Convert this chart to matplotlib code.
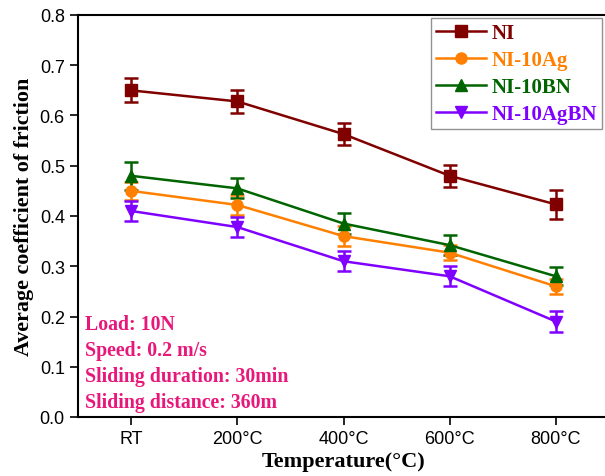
import matplotlib
matplotlib.use("Agg")
import matplotlib.pyplot as plt
from matplotlib.lines import Line2D
import numpy as np

categories = ["RT", "200°C", "400°C", "600°C", "800°C"]
series_names = ["NI", "NI-10Ag", "NI-10BN", "NI-10AgBN"]
ni = [0.650, 0.628, 0.563, 0.480, 0.423]
ni_err = [0.024, 0.023, 0.022, 0.022, 0.028]
ag = [0.450, 0.422, 0.360, 0.327, 0.260]
ag_err = [0.018, 0.020, 0.020, 0.015, 0.015]
bn = [0.480, 0.455, 0.385, 0.342, 0.280]
bn_err = [0.028, 0.020, 0.020, 0.020, 0.018]
agbn = [0.410, 0.378, 0.310, 0.280, 0.190]
agbn_err = [0.020, 0.020, 0.020, 0.020, 0.020]
notes = ["Load: 10N", "Speed: 0.2 m/s", "Sliding duration: 30min", "Sliding distance: 360m"]

colors = ["#800000", "#FF8000", "#006400", "#8000FF"]
markers = ["s", "o", "^", "v"]
values = [ni, ag, bn, agbn]
errs = [ni_err, ag_err, bn_err, agbn_err]

fig = plt.figure(figsize=(6.05, 4.77), dpi=100)
ax = fig.add_axes([78/605, 59/477, 531/605, 402/477])
x = np.arange(len(categories))
handles = []
for name, v, e, c, m in zip(series_names, values, errs, colors, markers):
    ax.errorbar(x, v, yerr=e, color=c, marker=m, markersize=8, linewidth=1.8,
                capsize=5, capthick=1.8, elinewidth=1.8)
    handles.append(Line2D([], [], color=c, marker=m, markersize=8, linewidth=1.8, label=name))

ax.set_xlim(-0.5, 4.5)
ax.set_ylim(0.0, 0.8)
ax.set_xticks(x)
ax.set_xticklabels(categories, fontfamily="Liberation Sans", fontsize=13)
yt = np.arange(0, 0.81, 0.1)
ax.set_yticks(yt)
ax.set_yticklabels([f"{t:.1f}" for t in yt], fontfamily="Liberation Sans", fontsize=13)
ax.tick_params(direction="out", length=6, width=1.2)
for s in ["left", "bottom", "top"]:
    ax.spines[s].set_linewidth(1.5)
ax.spines["right"].set_visible(False)

ax.set_xlabel("Temperature(°C)", fontfamily="Liberation Serif", fontweight="bold", fontsize=16, labelpad=3)
ax.set_ylabel("Average coefficient of friction", fontfamily="Liberation Serif", fontweight="bold", fontsize=15.8, labelpad=4)

leg = ax.legend(handles=handles, loc="upper left", bbox_to_anchor=((431-78)/531, (418-19)/402),
                prop={"family": "Liberation Serif", "weight": "bold", "size": 15},
                frameon=True, fancybox=False, edgecolor="#777777", handlelength=2.4,
                borderpad=0.25, labelspacing=0.33, handletextpad=0.25, borderaxespad=0.0)
leg.get_frame().set_linewidth(1.0)
for t, c in zip(leg.get_texts(), colors):
    t.set_color(c)

note_color = "#E8177A"
for i, n in enumerate(notes):
    ax.text(0.013, 0.231 - i * 0.0647, n, transform=ax.transAxes, color=note_color,
            fontfamily="Liberation Serif", fontweight="bold", fontsize=14.3, va="center", ha="left")

fig.savefig("out.png", dpi=100)
